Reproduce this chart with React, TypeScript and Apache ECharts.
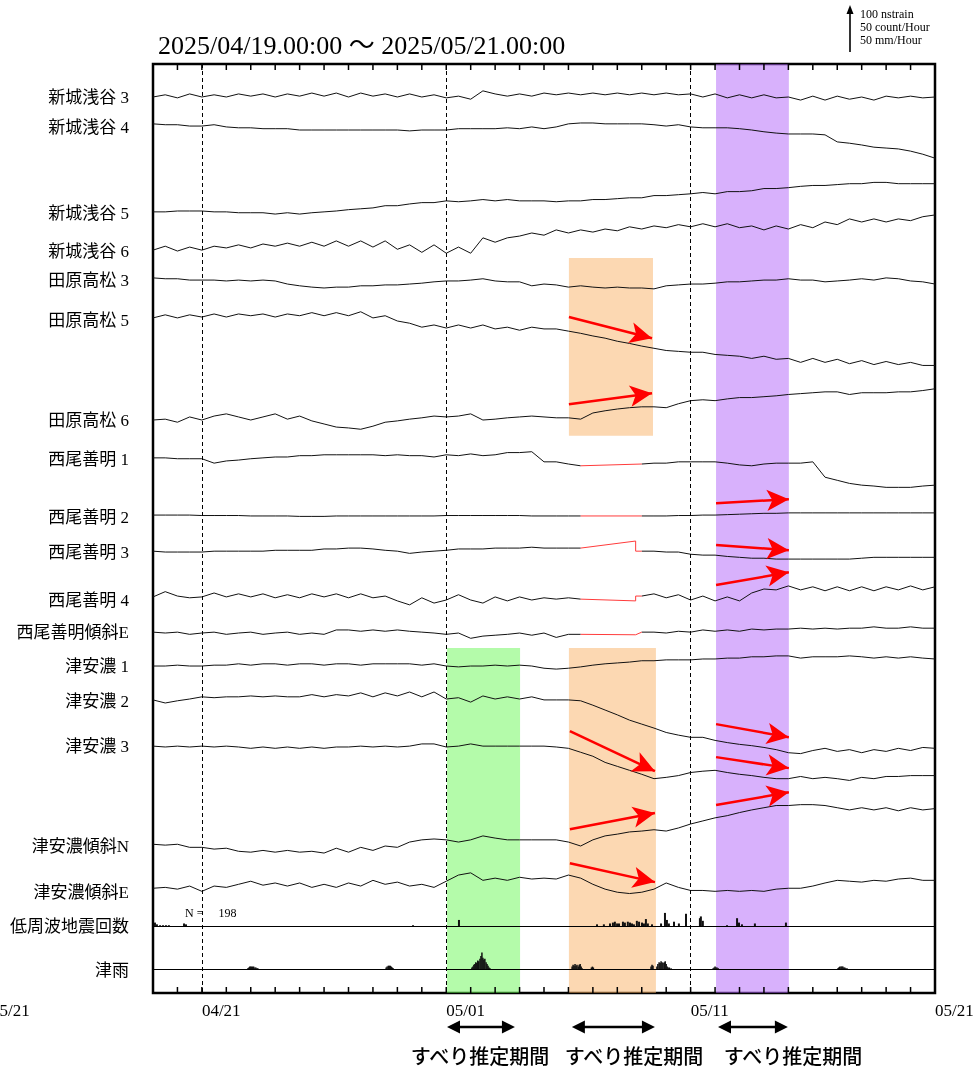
import { useEffect, useRef } from "react";
import * as echarts from "echarts";

const SERIF = "'Liberation Serif', 'Times New Roman', 'Noto Sans CJK JP', serif";
const SANS_JP = "'Noto Sans CJK JP', sans-serif";

// time axis: days since 2025/04/19 00:00, sampled every 12 h
const DAYS = Array.from({ length: 65 }, (_, i) => i / 2);
const TICK_DAYS = [2, 12, 22, 32];
const TICK_LABELS = ["04/21", "05/01", "05/11", "05/21"];
const DAILY_TICKS = Array.from({ length: 31 }, (_, i) => i + 1);
const TITLE = "2025/04/19.00:00 〜 2025/05/21.00:00";

// vertical scale: 100 nstrain = 44 px ; axis unit = nstrain (from top of plot)
const Y_MAX = 2111;
const COUNT_TO_UNITS = 2; // 50 count/Hour = 100 nstrain
const RAIN_TO_UNITS = 2; // 50 mm/Hour = 100 nstrain

const NAMES = [
  "新城浅谷 3", "新城浅谷 4", "新城浅谷 5", "新城浅谷 6",
  "田原高松 3", "田原高松 5", "田原高松 6",
  "西尾善明 1", "西尾善明 2", "西尾善明 3", "西尾善明 4", "西尾善明傾斜E",
  "津安濃 1", "津安濃 2", "津安濃 3", "津安濃傾斜N", "津安濃傾斜E",
  "低周波地震回数", "津雨",
];
// baseline offset of each trace (axis units from the top)
const ROWS = [75, 136, 336, 423, 486, 577, 809, 895, 1025, 1107, 1211, 1291, 1368, 1445, 1550, 1775, 1873, 1959, 2057];
const LABEL_ROWS = [75, 145, 339, 427, 491, 582, 809, 898, 1030, 1109, 1220, 1291, 1368, 1448, 1550, 1777, 1882, 1961, 2059];

// strain values (nstrain, up positive), every 12 h
const shinshiroAsaya3 = [0,5,-2,7,0,5,0,7,2,7, 0,7,2,9,2,9,0,9,2,7, 0,7,0,5,-2,2,-5,14,7,2, 7,2,9,5,9,5,9,5,9,5, 9,5,9,5,7,0,7,-2,5,-2, 5,-2,0,-7,2,-7,2,-5,0,-7, 2,-2,2,-2,0];
const shinshiroAsaya4 = [0,-2,-2,-5,-5,-2,-7,-9,-9,-11, -11,-11,-14,-14,-14,-14,-14,-14,-14,-14, -14,-16,-14,-14,-14,-11,-11,-11,-11,-9, -11,-7,-11,-7,0,2,2,0,0,0, 0,-2,-5,-2,-7,-9,-9,-9,-11,-14, -18,-21,-23,-23,-23,-25,-41,-44,-48,-53, -55,-57,-62,-69,-78];
const shinshiroAsaya5 = [0,0,2,2,2,0,0,-2,-2,-2, -5,-2,-5,-2,0,2,5,7,9,14, 14,18,21,21,25,23,25,28,25,28, 25,25,25,23,25,25,28,28,30,32, 32,37,37,39,41,44,41,46,46,48, 53,53,55,58,60,60,62,64,64,67, 67,64,64,64,64];
const shinshiroAsaya6 = [0,9,-2,7,0,9,5,12,5,14, 9,16,9,18,9,21,9,21,7,21, 2,12,-5,12,-7,7,-7,28,18,28, 32,39,34,46,39,46,41,48,44,53, 48,55,51,58,53,60,53,60,51,55, 46,55,48,58,51,64,58,71,64,71, 64,71,67,76,80];
const taharaTakamatsu3 = [0,-2,-2,-5,-5,-5,-7,-5,-7,-5, -7,-14,-18,-21,-23,-21,-21,-18,-18,-16, -16,-14,-12,-9,-7,-7,-5,-2,-7,-9, -9,-18,-14,-16,-21,-18,-21,-23,-21,-23, -23,-25,-18,-16,-14,-14,-12,-9,-9,-7, -5,-5,-2,-5,-5,-9,-7,-5,-2,-5, 0,-2,-7,-9,-14];
const taharaTakamatsu5 = [0,7,0,7,2,9,2,9,5,9, 2,9,5,12,5,12,5,14,0,5, -7,-12,-21,-16,-23,-16,-23,-16,-25,-21, -28,-21,-25,-25,-30,-35,-41,-46,-53,-58, -64,-69,-74,-76,-78,-78,-83,-85,-87,-92, -87,-94,-92,-101,-92,-101,-94,-104,-97,-106, -99,-106,-101,-108,-108];
const taharaTakamatsu6 = [0,2,-5,7,0,9,14,7,0,7, 14,2,9,-2,-9,-16,-18,-21,-14,-5, -2,2,5,9,7,9,14,0,2,5, 7,9,7,5,5,2,16,21,25,28, 30,30,28,37,44,46,44,48,51,51, 53,55,58,60,62,64,64,58,62,62, 62,64,64,67,71];
const nishioZenmyo1 = [0,0,-2,-2,-2,-12,-7,-5,-2,0, 2,2,5,5,7,7,7,7,7,5, 7,5,5,2,7,5,9,5,7,12, 12,14,-9,-9,-14,-18,null,null,null,null, -14,-12,-12,-9,-9,-9,-9,-12,-16,-18, -14,-12,-12,-12,-9,-44,-51,-58,-62,-64, -67,-67,-67,-64,-62];
const nishioZenmyo2 = [0,0,0,0,-1,-1,-1,-1,-2,-2, -2,-2,-3,-3,-3,-2,-2,-2,-2,-2, -2,-2,-2,-2,-1,-1,-1,-1,-1,-1, -1,-2,-2,-2,-2,-2,null,null,null,null, -2,-2,-2,-1,-1,0,0,1,2,3, 4,4,5,5,5,5,5,5,5,5, 5,5,5,5,5];
const nishioZenmyo3 = [0,-2,-2,-2,-2,0,0,0,0,0, 2,2,2,2,5,5,7,7,5,2, 0,-5,-2,0,2,5,5,5,7,7, 7,9,7,7,7,7,null,null,null,null, 0,0,-2,-2,-7,-9,-9,-12,-14,-16, -16,-18,-18,-18,-18,-18,-18,-18,-16,-14, -14,-14,-14,-14,-14];
const nishioZenmyo4 = [0,12,2,-2,0,9,0,7,0,7, -2,5,-2,7,0,7,-2,7,-2,2, -9,-18,-2,-14,-7,5,-7,-14,0,-9, 0,-7,-2,-5,-2,-5,null,null,null,null, 2,7,-2,5,-7,2,-9,0,-9,9, 18,16,25,16,23,14,23,14,23,14, 23,16,25,16,23];
const nishioZenmyoTiltE = [0,-2,0,-5,-2,0,-5,-2,0,-5, -2,0,-5,-2,-5,5,5,2,5,2, 5,2,0,-2,-5,-2,-14,-9,-7,-5, -2,-7,-2,-12,-5,-5,null,null,null,null, 0,0,-2,2,0,5,2,5,2,7, 5,7,7,9,7,9,7,9,9,12, 9,9,12,9,9];
const tsuAno1 = [0,0,2,0,0,2,2,5,2,5, 5,2,5,5,2,5,5,2,5,5, 5,5,2,5,0,-2,0,0,2,0, 2,0,-5,-7,-5,-2,2,5,7,9, 12,12,14,14,14,16,16,18,18,21, 21,23,23,18,21,21,21,23,21,18, 21,18,21,18,16];
const tsuAno2 = [0,-7,-2,2,7,5,7,7,9,7, 9,7,7,12,7,12,9,16,7,16, 9,18,7,18,2,5,-5,9,2,7, 2,7,0,0,0,-2,-12,-23,-34,-46, -55,-64,-74,-80,-85,-85,-92,-97,-101,-104, -108,-113,-120,-122,-115,-110,-117,-113,-120,-113, -117,-110,-115,-108,-110];
const tsuAno3 = [0,-2,0,-2,0,-2,0,-2,-5,-2, -5,-2,-5,-2,-5,-2,-2,0,-2,0, -2,0,5,5,-2,0,5,0,0,0, 0,0,0,-2,-5,-14,-23,-37,-46,-55, -64,-74,-71,-67,-60,-57,-55,-60,-64,-67, -71,-74,-74,-69,-74,-71,-74,-78,-71,-74, -69,-69,-67,-67,-67];
const tsuAnoTiltN = [2,0,2,-5,-5,-9,-7,-14,-16,-12, -16,-12,-16,-14,-18,-7,-16,-5,-12,-2, -5,7,12,14,12,7,12,21,16,12, 12,12,12,12,7,-2,12,21,25,30, 32,35,32,39,48,55,62,67,74,80, 85,90,90,92,92,90,85,80,85,80, 85,78,85,80,83];
const tsuAnoTiltE = [0,2,-2,5,-7,5,2,9,16,7, 12,5,12,2,9,2,12,5,18,9, 14,5,9,2,16,30,35,18,23,18, 25,21,23,21,30,23,9,-2,-9,-12, -9,-2,12,2,-5,-5,-7,-5,-7,-5, -7,-2,0,0,5,12,18,16,14,18, 16,21,23,18,18];

// interpolated (missing-data) segments drawn in red: [day, nstrain]
const gapNishio1 = [[17.5, -18], [20, -14]];
const gapNishio2 = [[17.5, -2], [20, -2]];
const gapNishio3 = [[17.5, 7], [19.75, 23], [19.75, 0], [20, 0]];
const gapNishio4 = [[17.5, -5], [19.75, -9], [19.75, 2], [20, 2]];
const gapNishioE = [[17.5, -5], [19.75, -6], [20, 0]];

const TRACE_VALUES = [
  shinshiroAsaya3, shinshiroAsaya4, shinshiroAsaya5, shinshiroAsaya6,
  taharaTakamatsu3, taharaTakamatsu5, taharaTakamatsu6,
  nishioZenmyo1, nishioZenmyo2, nishioZenmyo3, nishioZenmyo4, nishioZenmyoTiltE,
  tsuAno1, tsuAno2, tsuAno3, tsuAnoTiltN, tsuAnoTiltE,
];
const TRACE_GAPS: Record<number, number[][]> = { 7: gapNishio1, 8: gapNishio2, 9: gapNishio3, 10: gapNishio4, 11: gapNishioE };

// hourly low-frequency earthquake counts [day, count]
const LFE = [
  [0.08, 4], [0.16, 2], [0.29, 1], [0.41, 1], [0.53, 1], [0.65, 1], [1.27, 3], [1.35, 2],
  [10.64, 1], [12.52, 7],
  [18.17, 2], [18.45, 2], [18.7, 3], [18.82, 4], [18.9, 5], [18.99, 3], [19.07, 3], [19.23, 5], [19.31, 4],
  [19.43, 5], [19.52, 4], [19.6, 3], [19.68, 2], [19.8, 6], [19.89, 5], [20.01, 4], [20.09, 3], [20.17, 8],
  [20.25, 3], [20.42, 2],
  [20.79, 3], [20.95, 15], [21.03, 7], [21.11, 3], [21.32, 5], [21.52, 3], [21.81, 14], [22.38, 9], [22.42, 11], [22.5, 6],
  [23.49, 1], [23.9, 9], [23.98, 4], [24.1, 2], [24.63, 3], [25.9, 4],
];
// hourly rain at Tsu [day, mm]
const RAIN = [
  [3.88, 1], [3.92, 2], [3.96, 3], [4.0, 3], [4.04, 3], [4.08, 3], [4.12, 3], [4.17, 2], [4.21, 2], [4.25, 1], [4.29, 1],
  [9.54, 2], [9.58, 3], [9.63, 4], [9.67, 4], [9.71, 4], [9.75, 3], [9.79, 2], [9.83, 1],
  [13.05, 2], [13.09, 3], [13.13, 5], [13.17, 6], [13.21, 8], [13.25, 7], [13.29, 10], [13.33, 9], [13.38, 12], [13.42, 15],
  [13.46, 19], [13.5, 13], [13.54, 11], [13.58, 12], [13.63, 8], [13.67, 6], [13.71, 4], [13.75, 2], [13.79, 1],
  [17.15, 3], [17.19, 5], [17.23, 4], [17.27, 6], [17.31, 4], [17.35, 5], [17.4, 3], [17.44, 5], [17.48, 6], [17.52, 3], [17.56, 1],
  [17.94, 2], [17.98, 3], [18.02, 2],
  [20.38, 3], [20.42, 5], [20.46, 4],
  [20.62, 3], [20.66, 6], [20.71, 8], [20.75, 7], [20.79, 9], [20.83, 8], [20.87, 7], [20.92, 8], [20.96, 9], [21.0, 6], [21.04, 3], [21.08, 2], [21.13, 2], [21.2, 1],
  [22.92, 1], [22.96, 2], [23.0, 3], [23.04, 2], [23.08, 2], [23.13, 1],
  [28.02, 1], [28.06, 2], [28.1, 3], [28.15, 3], [28.19, 3], [28.23, 3], [28.27, 2], [28.31, 2], [28.35, 1], [28.4, 1],
];

// estimated slip periods (shaded) [startDay, endDay, topUnit, bottomUnit]
const SHADE_ORANGE_TOP = [17.02, 20.46, 441, 845];
const SHADE_PURPLE = [23.04, 26.02, 0, Y_MAX];
const SHADE_GREEN = [12.03, 15.02, 1327, Y_MAX];
const SHADE_ORANGE_LOW = [17.02, 20.58, 1327, Y_MAX];

// red trend arrows [day0, unit0, day1, unit1]
const ARROWS = [
  [17.02, 575, 20.42, 623],
  [17.02, 773, 20.42, 748],
  [23.04, 998, 26.02, 989],
  [23.04, 1093, 26.02, 1105],
  [23.04, 1184, 26.02, 1155],
  [23.04, 1500, 26.02, 1530],
  [23.04, 1575, 26.02, 1600],
  [23.04, 1684, 26.02, 1655],
  [17.06, 1516, 20.54, 1607],
  [17.06, 1739, 20.54, 1702],
  [17.06, 1816, 20.54, 1859],
];
const SLIP_PERIODS = [[12.03, 14.81], [17.14, 20.54], [23.12, 25.98]];
const SLIP_LABEL = "すべり推定期間";
const SLIP_LABEL_X = [480, 634, 793];
const DASHED_DAYS = [2, 12, 22];

export default function App() {
  const ref = useRef<HTMLDivElement>(null);
  useEffect(() => {
    const chart = echarts.init(ref.current!, null, { renderer: "svg" });

    const traceSeries: any[] = [];
    TRACE_VALUES.forEach((vals, k) => {
      const row = ROWS[k];
      traceSeries.push({
        type: "line",
        name: NAMES[k],
        data: DAYS.map((d, i) => [d, vals[i] == null ? "-" : row - (vals[i] as number)]),
        showSymbol: false,
        symbol: "none",
        connectNulls: false,
        lineStyle: { color: "#111", width: 1 },
        silent: true,
        z: 2,
      });
      const gap = TRACE_GAPS[k];
      if (gap) {
        traceSeries.push({
          type: "line",
          data: gap.map(([d, v]) => [d, row - v]),
          showSymbol: false,
          symbol: "none",
          lineStyle: { color: "#ff3b3b", width: 1 },
          silent: true,
          z: 2,
        });
      }
    });

    const barRender = (baseRow: number, scale: number, hw: number, color: string) => (params: any, api: any) => {
      const d = api.value(0);
      const c = api.value(1);
      const p0 = api.coord([d, baseRow]);
      const p1 = api.coord([d, baseRow - c * scale]);
      return {
        type: "rect",
        shape: { x: p0[0] - hw, y: p1[1], width: hw * 2, height: p0[1] - p1[1] },
        style: { fill: color },
      };
    };

    const tickRender = (params: any, api: any) => {
      const d = api.value(0);
      const top = api.coord([d, 0]);
      const bot = api.coord([d, Y_MAX]);
      const st = { stroke: "#000", lineWidth: 1.5 };
      return {
        type: "group",
        children: [
          { type: "line", shape: { x1: top[0], y1: top[1], x2: top[0], y2: top[1] + 6 }, style: st },
          { type: "line", shape: { x1: bot[0], y1: bot[1] - 6, x2: bot[0], y2: bot[1] }, style: st },
        ],
      };
    };

    const markShade = (s: number[], color: string) => [
      { xAxis: s[0], yAxis: s[2], itemStyle: { color } },
      { xAxis: s[1], yAxis: s[3] },
    ];

    const option: any = {
      animation: false,
      grid: {
        left: 153, right: 38, top: 64, bottom: 76, show: true, borderColor: "#000", borderWidth: 2.5,
        backgroundColor: "transparent", outerBoundsMode: "none", containLabel: false,
      },
      xAxis: {
        type: "value", min: 0, max: 32, interval: 1, position: "bottom",
        axisLine: { show: false, onZero: false },
        axisTick: { show: false },
        axisLabel: {
          show: true, align: "left", margin: 9, color: "#000", fontSize: 17, fontFamily: SERIF,
          showMinLabel: true, showMaxLabel: true, hideOverlap: false,
          formatter: (v: number) => {
            const i = TICK_DAYS.indexOf(Math.round(v));
            return i >= 0 && Math.abs(v - TICK_DAYS[i]) < 1e-6 ? TICK_LABELS[i] : "";
          },
        },
        splitLine: { show: false },
      },
      yAxis: { type: "value", min: 0, max: Y_MAX, inverse: true, show: false, splitLine: { show: false } },
      series: [
        {
          type: "line", data: [], silent: true, z: 1,
          markLine: {
            silent: true, symbol: ["none", "none"], label: { show: false },
            lineStyle: { color: "#000", width: 1, type: [4, 3] },
            data: DASHED_DAYS.map((d) => ({ xAxis: d })),
          },
        },
        {
          type: "line", data: [], silent: true, z: 1,
          markLine: {
            silent: true, symbol: ["none", "none"], label: { show: false },
            lineStyle: { color: "#000", width: 1, type: "solid" },
            data: [{ yAxis: ROWS[17] }, { yAxis: ROWS[18] }],
          },
        },
        {
          type: "custom", data: DAILY_TICKS.map((d) => [d, 0]), renderItem: tickRender,
          encode: { x: 0, y: 1 }, silent: true, z: 7, clip: false,
        },
        ...traceSeries,
        {
          type: "custom", data: LFE, renderItem: barRender(ROWS[17], COUNT_TO_UNITS, 1, "#111"),
          encode: { x: 0, y: 1 }, silent: true, z: 2,
        },
        {
          type: "custom", data: RAIN, renderItem: barRender(ROWS[18], RAIN_TO_UNITS, 0.75, "#111"),
          encode: { x: 0, y: 1 }, silent: true, z: 2,
        },
        {
          type: "line", data: [], silent: true, z: 5,
          markArea: {
            silent: true,
            data: [
              markShade(SHADE_ORANGE_TOP, "rgba(249,177,101,0.5)"),
              markShade(SHADE_PURPLE, "rgba(177,99,249,0.5)"),
              markShade(SHADE_GREEN, "rgba(105,247,85,0.5)"),
              markShade(SHADE_ORANGE_LOW, "rgba(249,177,101,0.5)"),
            ],
          },
        },
        {
          type: "line", data: [], silent: true, z: 6,
          markLine: {
            silent: true, symbol: ["none", "arrow"], symbolSize: [16, 22], label: { show: false },
            lineStyle: { color: "#ff0000", width: 2.5, type: "solid" },
            itemStyle: { color: "#ff0000" },
            data: ARROWS.map((a) => [{ coord: [a[0], a[1]] }, { coord: [a[2], a[3]] }]),
          },
        },
      ],
    };
    chart.setOption(option);

    const px = (d: number) => chart.convertToPixel({ xAxisIndex: 0 }, d) as number;
    const py = (u: number) => chart.convertToPixel({ yAxisIndex: 0 }, u) as number;
    const nTotal = LFE.reduce((s, e) => s + e[1], 0);

    const g: any[] = [];
    g.push({ type: "text", x: 158, y: 45, style: { text: TITLE, fontSize: 26, fontFamily: SERIF, fill: "#000", verticalAlign: "middle", align: "left" } });
    NAMES.forEach((n, k) => {
      g.push({ type: "text", x: 129, y: py(LABEL_ROWS[k]), style: { text: n, fontSize: 17, fontFamily: SERIF, fill: "#000", align: "right", verticalAlign: "middle" } });
    });
    g.push({ type: "text", x: -9, y: 1010, style: { text: TICK_LABELS[3], fontSize: 17, fontFamily: SERIF, fill: "#000", align: "left", verticalAlign: "middle" } });
    g.push({ type: "text", x: 185, y: 913, style: { text: "N =     " + nTotal, fontSize: 12, fontFamily: SERIF, fill: "#000", align: "left", verticalAlign: "middle" } });
    // scale arrow
    g.push({ type: "line", shape: { x1: 850, y1: 52, x2: 850, y2: 12 }, style: { stroke: "#000", lineWidth: 1.6 } });
    g.push({ type: "polygon", shape: { points: [[846.5, 14], [850, 5], [853.5, 14]] }, style: { fill: "#000" } });
    ["100 nstrain", "50 count/Hour", "50 mm/Hour"].forEach((t, i) => {
      g.push({ type: "text", x: 860, y: 14 + i * 13, style: { text: t, fontSize: 12, fontFamily: SERIF, fill: "#000", align: "left", verticalAlign: "middle" } });
    });
    // slip-period double arrows and labels
    SLIP_PERIODS.forEach((p, i) => {
      const x0 = px(p[0]);
      const x1 = px(p[1]);
      const y = 1027;
      g.push({ type: "line", shape: { x1: x0 + 8, y1: y, x2: x1 - 8, y2: y }, style: { stroke: "#000", lineWidth: 2.5 } });
      g.push({ type: "polygon", shape: { points: [[x0, y], [x0 + 13, y - 6.5], [x0 + 13, y + 6.5]] }, style: { fill: "#000" } });
      g.push({ type: "polygon", shape: { points: [[x1, y], [x1 - 13, y - 6.5], [x1 - 13, y + 6.5]] }, style: { fill: "#000" } });
      g.push({ type: "text", x: SLIP_LABEL_X[i], y: 1055, style: { text: SLIP_LABEL, fontSize: 20, fontFamily: SANS_JP, fontWeight: 500, fill: "#000", align: "center", verticalAlign: "middle" } });
    });
    chart.setOption({ graphic: g });

    return () => chart.dispose();
  }, []);
  return <div ref={ref} style={{ position: "fixed", left: 0, top: 0, width: 973, height: 1069 }} />;
}
